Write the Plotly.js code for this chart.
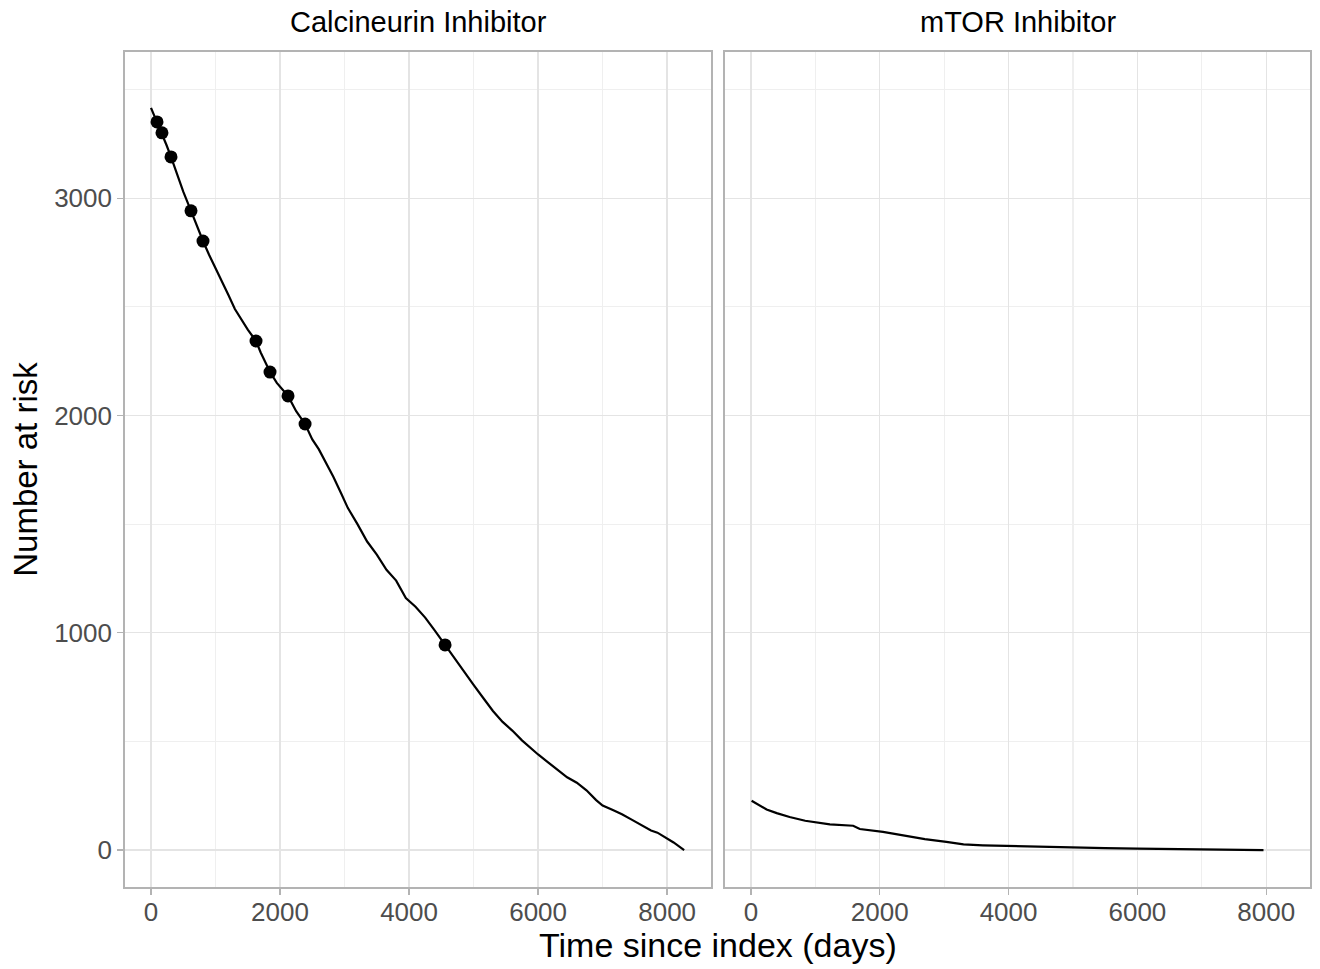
<!DOCTYPE html>
<html>
<head>
<meta charset="utf-8">
<script src="https://cdn.plot.ly/plotly-3.0.1.min.js"></script>
<style>html,body{margin:0;padding:0;background:#fff;}#chart{width:1320px;height:969px;}</style>
</head>
<body>
<div id="chart"></div>
<script>
const panelTitles = ["Calcineurin Inhibitor", "mTOR Inhibitor"];
const xTitle = "Time since index (days)";
const yTitle = "Number at risk";

const ciDays = [0,50,93,130,170,240,310,400,500,620,700,806,900,1000,1100,1200,1300,1400,1500,1628,1700,1845,1950,2124,2250,2388,2500,2600,2700,2826,2950,3050,3200,3350,3500,3650,3800,3950,4100,4250,4400,4558,4700,4850,5000,5150,5300,5450,5600,5750,5900,6000,6150,6300,6450,6600,6750,6900,7000,7150,7300,7450,7600,7750,7850,8000,8100,8264];
const ciAtRisk = [3416,3380,3351,3325,3301,3245,3190,3110,3030,2942,2880,2803,2740,2680,2620,2555,2490,2440,2395,2343,2290,2200,2150,2090,2020,1961,1890,1845,1790,1718,1640,1575,1500,1420,1360,1290,1240,1160,1120,1070,1010,944,880,820,760,700,640,590,550,505,465,440,405,370,335,310,275,230,205,185,165,140,115,90,80,55,35,0];

const markDays = [93,170,310,620,806,1628,1845,2124,2388,4558];
const markAtRisk = [3351,3301,3190,2942,2803,2343,2200,2090,1961,944];

const mtorDays = [10,100,243,400,600,842,1000,1225,1587,1690,2050,2465,2700,3034,3300,3600,4000,4500,5000,5500,6000,6500,7000,7500,7958];
const mtorAtRisk = [227,212,187,170,152,135,128,118,112,97,84,61,50,38,26,22,19,15,11,9,7,5,4,2,0];

const xTicks = [0,2000,4000,6000,8000];
const yTicks = [0,1000,2000,3000];

const FONT = "Liberation Sans, Arial, Helvetica, sans-serif";
const tickFont = {family: FONT, size: 26, color: "#4d4d4d"};

const traces = [
  {x: ciDays, y: ciAtRisk, type: "scatter", mode: "lines", line: {color: "#000", width: 2.2}, xaxis: "x", yaxis: "y", hoverinfo: "skip"},
  {x: markDays, y: markAtRisk, type: "scatter", mode: "markers", marker: {color: "#000", size: 13}, xaxis: "x", yaxis: "y"},
  {x: mtorDays, y: mtorAtRisk, type: "scatter", mode: "lines", line: {color: "#000", width: 2.2}, xaxis: "x2", yaxis: "y2"}
];

function xax(domain, anchor) {
  return {
    domain: domain, anchor: anchor, range: [-403, 8680],
    tickvals: xTicks, ticktext: xTicks.map(String), tickfont: tickFont,
    ticks: "outside", ticklen: 6, tickcolor: "#b3b3b3", tickwidth: 1.3, ticklabelstandoff: -5,
    showgrid: true, gridcolor: "#e4e4e4", gridwidth: 1.3,
    minor: {tickvals: [1000,3000,5000,7000], showgrid: true, gridcolor: "#efefef", gridwidth: 1.1, ticks: ""},
    zeroline: false, showline: true, mirror: true, linecolor: "#b3b3b3", linewidth: 1.8
  };
}
function yax(anchor, showLabels) {
  return {
    anchor: anchor, domain: [0, 1], range: [-170, 3673],
    tickvals: yTicks, ticktext: showLabels ? yTicks.map(String) : yTicks.map(() => ""),
    tickfont: tickFont,
    ticks: showLabels ? "outside" : "", ticklen: 6, tickcolor: "#b3b3b3", tickwidth: 1.3,
    showgrid: true, gridcolor: "#e4e4e4", gridwidth: 1.3,
    minor: {tickvals: [500,1500,2500,3500], showgrid: true, gridcolor: "#efefef", gridwidth: 1.1, ticks: ""},
    zeroline: false, showline: true, mirror: true, linecolor: "#b3b3b3", linewidth: 1.8
  };
}

const d1 = [0, 586/1185];
const d2 = [600/1185, 1];

const layout = {
  width: 1320, height: 969,
  margin: {l: 125, r: 10, t: 52, b: 82},
  paper_bgcolor: "#fff", plot_bgcolor: "#fff",
  showlegend: false,
  xaxis: xax(d1, "y"),
  yaxis: Object.assign(yax("x", true), {title: {text: yTitle, font: {family: FONT, size: 33, color: "#000"}, standoff: 7}}),
  xaxis2: xax(d2, "y2"),
  yaxis2: yax("x2", false),
  annotations: [
    {text: panelTitles[0], xref: "paper", yref: "paper", x: (d1[0]+d1[1])/2, y: 1, yshift: 12, yanchor: "bottom", xanchor: "center", showarrow: false, font: {family: FONT, size: 29, color: "#000"}},
    {text: panelTitles[1], xref: "paper", yref: "paper", x: (d2[0]+d2[1])/2, y: 1, yshift: 12, yanchor: "bottom", xanchor: "center", showarrow: false, font: {family: FONT, size: 29, color: "#000"}},
    {text: xTitle, xref: "paper", yref: "paper", x: 0.5, y: 0, yshift: -37, yanchor: "top", xanchor: "center", showarrow: false, font: {family: FONT, size: 34, color: "#000"}}
  ]
};

Plotly.newPlot("chart", traces, layout, {displayModeBar: false, staticPlot: true});
</script>
</body>
</html>
